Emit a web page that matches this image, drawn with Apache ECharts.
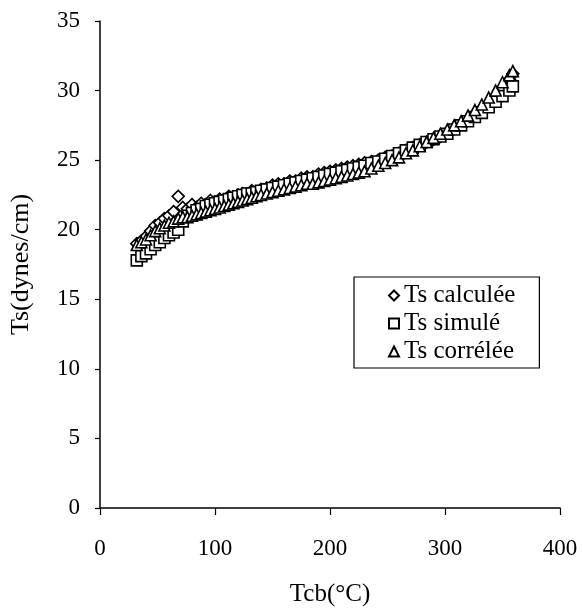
<!DOCTYPE html>
<html>
<head>
<meta charset="utf-8">
<script src="https://cdn.jsdelivr.net/npm/echarts@6/dist/echarts.min.js"></script>
<style>html,body{margin:0;padding:0;background:#fff;}#c{width:583px;height:612px;}</style>
</head>
<body>
<div id="c"></div>
<script>
const tcb = [32,36,40,44,48,52,56,60,64,68,72,76,80,84,88,92,96,100,104,108,112,116,120,124,128,132,136,140,145,150,155,160,165,170,175,180,185,190,195,200,205,210,215,220,225,230,236,242,248,254,260,266,272,278,284,290,296,302,308,314,320,326,332,338,344,350,356,359];
const tsCalc = [19.0,19.2,19.5,19.9,20.3,20.5,20.8,21.0,21.3,22.4,21.6,21.5,21.8,21.6,21.9,21.8,22.1,22.0,22.2,22.1,22.4,22.3,22.5,22.6,22.5,22.8,22.7,22.9,23.0,23.2,23.3,23.3,23.5,23.5,23.7,23.8,23.8,24.0,24.1,24.2,24.3,24.4,24.5,24.6,24.7,24.8,24.9,25.0,25.2,25.3,25.5,25.7,25.9,26.1,26.3,26.5,26.7,27.0,27.3,27.6,27.9,28.3,28.7,29.1,29.6,30.2,30.8,31.2];
const tsSim = [17.8,18.1,18.3,18.6,18.9,19.1,19.4,19.6,19.8,20.0,20.6,21.0,21.2,21.4,21.5,21.7,21.8,21.9,22.0,22.1,22.2,22.3,22.4,22.5,22.6,22.6,22.7,22.8,22.9,23.0,23.1,23.2,23.3,23.4,23.5,23.6,23.7,23.8,23.9,24.0,24.1,24.2,24.3,24.4,24.5,24.6,24.8,24.9,25.1,25.3,25.5,25.7,25.9,26.1,26.3,26.5,26.7,26.9,27.2,27.5,27.8,28.1,28.4,28.8,29.2,29.6,30.0,30.3];
const tsCorr = [18.9,19.1,19.3,19.6,19.9,20.1,20.3,20.5,20.6,20.8,20.9,20.9,21.0,21.1,21.2,21.3,21.4,21.5,21.6,21.7,21.8,21.9,22.0,22.1,22.2,22.3,22.4,22.5,22.6,22.7,22.8,22.9,23.0,23.1,23.2,23.3,23.3,23.4,23.5,23.6,23.7,23.8,23.9,24.0,24.1,24.2,24.4,24.6,24.8,25.0,25.2,25.5,25.7,26.0,26.3,26.6,26.9,27.2,27.5,27.8,28.2,28.6,29.0,29.5,30.0,30.6,31.1,31.4];
const seriesNames = ['Ts calculée','Ts simulé','Ts corrélée'];
const symbols = ['diamond','rect','triangle'];

const font = 'Liberation Serif';
const pairs = arr => tcb.map((x,i)=>[x,arr[i]]);
const sets = [tsCalc, tsSim, tsCorr];
const sizes = [12, 11, 11];

const chart = echarts.init(document.getElementById('c'), null, {renderer:'canvas'});
chart.setOption({
  backgroundColor:'#fff',
  animation:false,
  grid:{left:98,right:23,top:21,bottom:103},
  legend:{
    orient:'vertical', left:354, top:277,
    data: seriesNames,
    borderColor:'#000', borderWidth:1.2,
    padding:[6,24,4,34],
    itemGap:3, itemWidth:10, itemHeight:10,
    textStyle:{fontFamily:font,fontSize:25,color:'#000'}
  },
  xAxis:{
    type:'value', min:0, max:400, interval:100,
    name:'Tcb(°C)', nameLocation:'middle', nameGap:74,
    nameTextStyle:{fontFamily:font,fontSize:25,color:'#000'},
    axisLine:{show:true,lineStyle:{color:'#000',width:1.5}},
    axisTick:{show:true,inside:false,length:7,lineStyle:{color:'#000',width:1.2}},
    axisLabel:{fontFamily:font,fontSize:23,color:'#000',margin:29},
    splitLine:{show:false}
  },
  yAxis:{
    type:'value', min:0, max:35, interval:5,
    name:'Ts(dynes/cm)', nameLocation:'middle', nameGap:66,
    nameTextStyle:{fontFamily:font,fontSize:26,color:'#000'},
    axisLine:{show:true,lineStyle:{color:'#000',width:1.5}},
    axisTick:{show:true,inside:false,length:5,lineStyle:{color:'#000',width:1.2}},
    axisLabel:{fontFamily:font,fontSize:23,color:'#000',margin:20},
    splitLine:{show:false}
  },
  series: sets.map((arr,k)=>({
    name: seriesNames[k], type:'scatter', symbol: symbols[k], symbolSize: sizes[k],
    data: pairs(arr),
    itemStyle:{color:'#fff', borderColor:'#000', borderWidth:1.6, opacity:1}
  }))
});
</script>
</body>
</html>
